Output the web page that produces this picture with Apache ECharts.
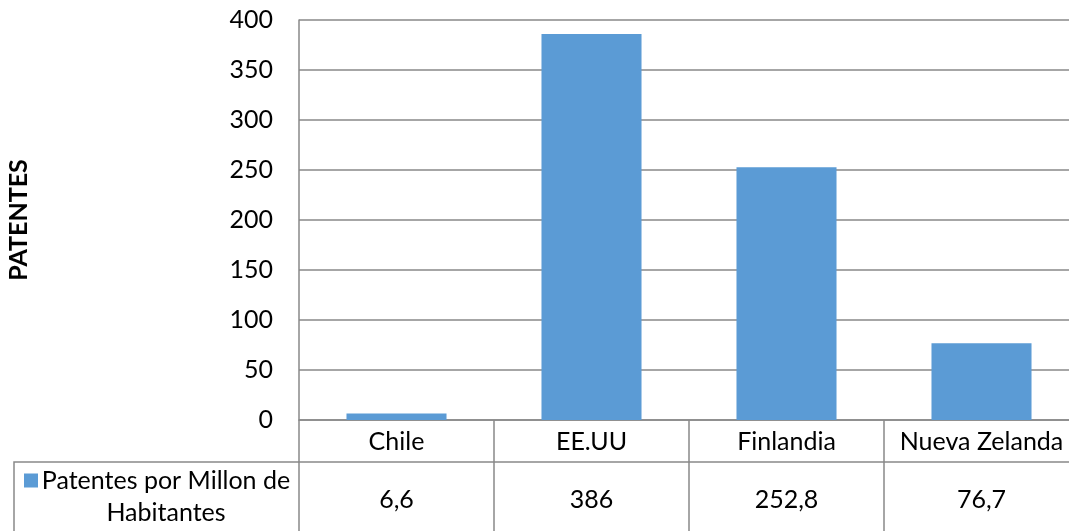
<!DOCTYPE html>
<html>
<head>
<meta charset="utf-8">
<script src="https://cdn.jsdelivr.net/npm/echarts@6/dist/echarts.min.js"></script>
<style>
  html, body { margin: 0; padding: 0; background: #fff; }
  #chart { width: 1069px; height: 531px; }
</style>
</head>
<body>
<div id="chart"></div>
<script>
// Patentes por millón de habitantes, por país
const categories = ['Chile', 'EE.UU', 'Finlandia', 'Nueva Zelanda'];
const patentes = [6.6, 386, 252.8, 76.7];
const seriesName = 'Patentes por Millon de Habitantes';
const yTicks = { min: 0, max: 400, interval: 50 };

// Values printed in the data table use a decimal comma
const tableValues = patentes.map(v => String(v).replace('.', ','));

const FONT = 'Lato';
const FS = 25;
const LINE = '#898989';

const chart = echarts.init(document.getElementById('chart'), null, { renderer: 'canvas' });

chart.setOption({
  animation: false,
  textStyle: { fontFamily: FONT, color: '#000' },
  grid: { left: 299, right: -10, top: 20, bottom: 111, containLabel: false, outerBoundsMode: 'none' },
  legend: {
    show: true,
    left: 24,
    top: 436,
    padding: 0,
    itemWidth: 14,
    itemHeight: 14,
    icon: 'rect',
    data: [seriesName],
    formatter: () => '{a|}\n{a|Patentes por Millon de}\n{a|Habitantes}',
    textStyle: {
      rich: {
        a: { fontFamily: FONT, fontSize: FS, lineHeight: 32, width: 246, align: 'center', color: '#000' }
      }
    }
  },
  xAxis: [
    {
      type: 'category',
      data: categories,
      position: 'bottom',
      axisLine: { show: true, lineStyle: { color: LINE, width: 1.5 } },
      axisTick: { show: true, interval: 0, length: 111, lineStyle: { color: LINE, width: 1.5 } },
      axisLabel: { interval: 0, hideOverlap: false, fontFamily: FONT, fontSize: FS, color: '#000', margin: 9 }
    },
    {
      type: 'category',
      data: tableValues,
      position: 'bottom',
      offset: 42,
      axisLine: { show: true, lineStyle: { color: LINE, width: 1.5 } },
      axisTick: { show: false },
      axisLabel: { interval: 0, hideOverlap: false, fontFamily: FONT, fontSize: FS, color: '#000', margin: 25 }
    }
  ],
  yAxis: {
    type: 'value',
    min: yTicks.min,
    max: yTicks.max,
    interval: yTicks.interval,
    name: 'PATENTES',
    nameLocation: 'middle',
    nameRotate: 90,
    nameGap: 268,
    nameTextStyle: { fontFamily: FONT, fontSize: FS, fontWeight: 'bold', color: '#000' },
    axisLine: { show: true, lineStyle: { color: LINE, width: 1.5 } },
    axisTick: { show: false },
    axisLabel: { fontFamily: FONT, fontSize: FS, color: '#000', margin: 26 },
    splitLine: { show: true, lineStyle: { color: LINE, width: 1.5 } }
  },
  graphic: [
    // left cell of the data table holding the legend key
    {
      type: 'polyline',
      shape: { points: [[14, 531], [14, 462], [299, 462]] },
      style: { stroke: LINE, lineWidth: 1.5, fill: null },
      silent: true
    }
  ],
  series: [
    {
      name: seriesName,
      type: 'bar',
      xAxisIndex: 0,
      data: patentes,
      barCategoryGap: '48.7%',
      itemStyle: { color: '#5B9BD5' }
    }
  ]
});
</script>
</body>
</html>
